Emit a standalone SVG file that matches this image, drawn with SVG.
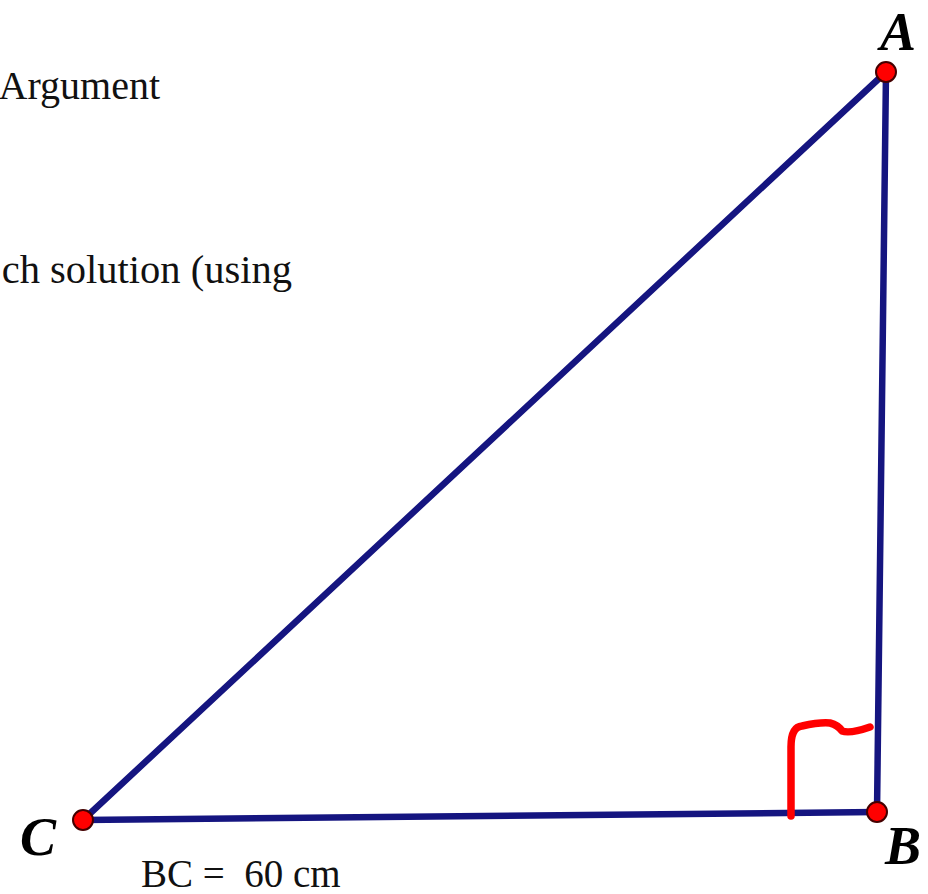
<svg xmlns="http://www.w3.org/2000/svg" width="928" height="894" viewBox="0 0 928 894">
<style>
.txt{font-family:"Liberation Serif","Times New Roman",serif;fill:#111;}
.lbl{font-family:"Liberation Serif","Times New Roman",serif;font-weight:bold;font-style:italic;font-size:54px;fill:#000;}
.side{stroke:#151580;stroke-width:6.5;stroke-linecap:round;fill:none;}
.pt{fill:#f00;stroke:#400;stroke-width:2;}
</style>
<rect width="928" height="894" fill="#fff"/>
<text class="txt" x="160" y="99" font-size="40" text-anchor="end">Argument</text>
<text class="txt" x="292" y="283" font-size="40.5" text-anchor="end">ch solution (using</text>
<g id="connectors">
<line class="side" x1="83" y1="820" x2="886" y2="72"/>
<line class="side" x1="886" y1="72" x2="877" y2="812"/>
<line class="side" x1="877" y1="812" x2="83" y2="820"/>
</g>
<path id="right-angle" d="M791,816 L791,747 Q791,727 802,726 Q820,722 830,723 Q838,725 842,731 Q850,734 870,727" fill="none" stroke="#f00" stroke-width="7.5" stroke-linecap="round" stroke-linejoin="round"/>
<g id="A"><circle class="pt" cx="886" cy="72" r="10"/><text class="lbl" x="880" y="50">A</text></g>
<g id="B"><circle class="pt" cx="877" cy="812" r="10"/><text class="lbl" x="885" y="864">B</text></g>
<g id="C"><circle class="pt" cx="83" cy="820" r="10"/><text class="lbl" x="20" y="855">C</text></g>
<text class="txt" x="141" y="887" font-size="39" style="white-space:pre">BC =  60 cm</text>
</svg>
